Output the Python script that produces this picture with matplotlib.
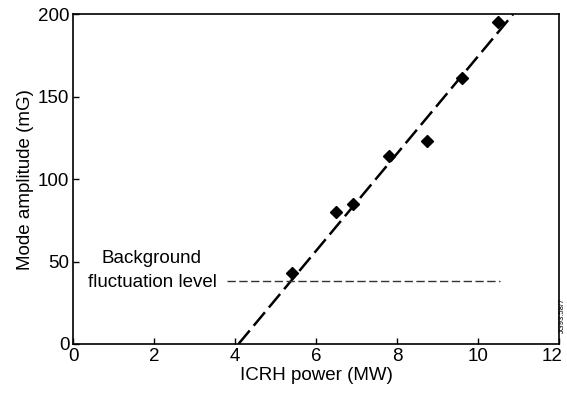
import matplotlib
matplotlib.use('Agg')
import matplotlib.pyplot as plt
import matplotlib.transforms as mtransforms
import numpy as np

matplotlib.rcParams['font.family'] = 'Liberation Sans'
matplotlib.rcParams['font.size'] = 13.5

# measured points
power = [5.4, 6.5, 6.9, 7.8, 8.75, 9.6, 10.5]
amplitude = [43, 80, 85, 114, 123, 161, 195]

# fitted line end points and background level
fit_x = [4.08, 10.87]
fit_y = [0, 200]
bg_x = [3.8, 10.55]
bg_level = 38.3

fig = plt.figure(figsize=(5.67, 3.94), dpi=100)
ax = fig.add_axes([0.1296, 0.127, 0.856, 0.837])

ax.plot(fit_x, fit_y, color='black', lw=1.8, dashes=(7, 2.5))
ax.plot(bg_x, [bg_level, bg_level], color='#333333', lw=1.0, dashes=(6, 2.5))
ax.plot(power, amplitude, linestyle='none', marker='D', color='black', markersize=6)

ax.text(1.94, 51.6, 'Background', ha='center', va='center')
ax.text(1.94, 37, 'fluctuation level', ha='center', va='center')
fig.text(0.992, 0.2, 'JG93.58/7', rotation=90, fontsize=5.5, ha='center', va='center')

ax.set_xlim(0, 12)
ax.set_ylim(0, 200)
ax.set_xticks([0, 2, 4, 6, 8, 10, 12])
ax.set_yticks([0, 50, 100, 150, 200])
ax.tick_params(direction='in', length=4, width=1, pad=3)
for s in ax.spines.values():
    s.set_linewidth(1.2)

# last x tick label sits against the figure edge, nudge it in a little
last = ax.get_xticklabels()[-1]
last.set_transform(last.get_transform() + mtransforms.ScaledTranslation(-5 / 72, 0, fig.dpi_scale_trans))

ax.set_xlabel('ICRH power (MW)', labelpad=1)
ax.set_ylabel('Mode amplitude (mG)', labelpad=3)

plt.savefig('out.png', dpi=100)
